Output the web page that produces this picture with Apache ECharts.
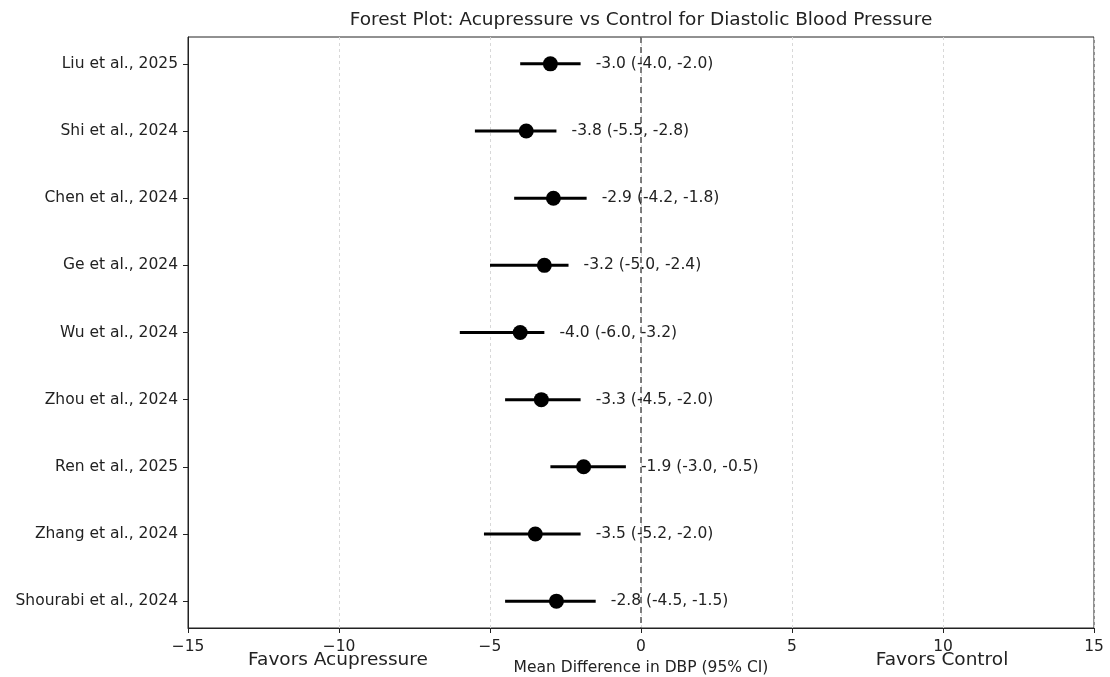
<!DOCTYPE html>
<html>
<head>
<meta charset="utf-8">
<script src="https://cdn.jsdelivr.net/npm/echarts@6/dist/echarts.min.js"></script>
<style>
  html, body { margin: 0; padding: 0; background: #fff; }
  #chart { width: 1110px; height: 677px; }
</style>
</head>
<body>
<div id="chart"></div>
<script>
// Forest plot — acupressure vs control, DBP
const studies = ['Liu et al., 2025', 'Shi et al., 2024', 'Chen et al., 2024', 'Ge et al., 2024',
  'Wu et al., 2024', 'Zhou et al., 2024', 'Ren et al., 2025', 'Zhang et al., 2024', 'Shourabi et al., 2024'];
const estimates = [-3.0, -3.8, -2.9, -3.2, -4.0, -3.3, -1.9, -3.5, -2.8];
const lowers = [-4.0, -5.5, -4.2, -5.0, -6.0, -4.5, -3.0, -5.2, -4.5];
const uppers = [-2.0, -2.8, -1.8, -2.4, -3.2, -2.0, -0.5, -2.0, -1.5];
const xTicks = [-15, -10, -5, 0, 5, 10, 15];

const FONT = '"DejaVu Sans", sans-serif';
const minus = v => (v < 0 ? '\u2212' + Math.abs(v) : String(v));
const fmt1 = v => v.toFixed(1);

const rows = studies.map((s, i) => [i, estimates[i], lowers[i], uppers[i]]);

const chart = echarts.init(document.getElementById('chart'), null, { renderer: 'canvas' });

chart.setOption({
  animation: false,
  grid: { left: 188, right: 16, top: 37, bottom: 49, show: true, borderColor: '#222', borderWidth: 1,
    outerBoundsMode: 'none' },
  xAxis: {
    type: 'value', min: -15, max: 15, interval: 5,
    axisLine: { show: true, onZero: false, lineStyle: { color: '#222', width: 1 } },
    axisTick: { show: true, inside: false, length: 5, lineStyle: { color: '#222' }, customValues: xTicks },
    axisLabel: { color: '#222', fontFamily: FONT, fontSize: 15.5, margin: 11, formatter: minus, customValues: xTicks },
    splitLine: { show: true, lineStyle: { color: '#d8d8d8', type: [3, 3], width: 1 } },
    name: 'Mean Difference in DBP (95% CI)', nameLocation: 'middle', nameGap: 31,
    nameTextStyle: { color: '#222', fontFamily: FONT, fontSize: 15.5 },
  },
  yAxis: {
    type: 'value', min: -0.4, max: 8.4, inverse: true,
    axisLine: { show: true, onZero: false, lineStyle: { color: '#222', width: 1 } },
    axisTick: { show: true, length: 5, lineStyle: { color: '#222' }, customValues: studies.map((s, i) => i) },
    axisLabel: {
      color: '#222', fontFamily: FONT, fontSize: 15.5, margin: 10,
      customValues: studies.map((s, i) => i),
      formatter: v => studies[Math.round(v)] || '',
    },
    splitLine: { show: false },
  },
  graphic: [
    { type: 'text', style: { text: 'Forest Plot: Acupressure vs Control for Diastolic Blood Pressure',
      x: 641, y: 20, fill: '#222', font: '18.5px ' + FONT, align: 'center', verticalAlign: 'middle' } },
    { type: 'text', style: { text: 'Favors Acupressure', x: 338, y: 660, fill: '#222', font: '18.5px ' + FONT,
      align: 'center', verticalAlign: 'middle' } },
    { type: 'text', style: { text: 'Favors Control', x: 942, y: 660, fill: '#222', font: '18.5px ' + FONT,
      align: 'center', verticalAlign: 'middle' } },
  ],
  series: [
    {
      type: 'line', data: [[0, -0.4], [0, 8.4]], symbol: 'none', silent: true, z: 1,
      lineStyle: { color: '#555', width: 1.5, type: [6, 4] },
    },
    {
      type: 'custom', data: rows, z: 3,
      renderItem: (params, api) => {
        const i = api.value(0);
        const est = api.value(1), lo = api.value(2), hi = api.value(3);
        const pLo = api.coord([lo, i]);
        const pHi = api.coord([hi, i]);
        const pE = api.coord([est, i]);
        const pT = api.coord([hi + 0.5, i]);
        return {
          type: 'group',
          children: [
            { type: 'line', shape: { x1: pLo[0], y1: pLo[1], x2: pHi[0], y2: pHi[1] },
              style: { stroke: '#000', lineWidth: 3 } },
            { type: 'circle', shape: { cx: pE[0], cy: pE[1], r: 7.5 }, style: { fill: '#000' } },
            { type: 'text', style: { text: `${fmt1(est)} (${fmt1(lo)}, ${fmt1(hi)})`, x: pT[0], y: pT[1],
              fill: '#222', font: '15.5px ' + FONT, align: 'left', verticalAlign: 'middle' } },
          ],
        };
      },
    },
  ],
});
</script>
</body>
</html>
